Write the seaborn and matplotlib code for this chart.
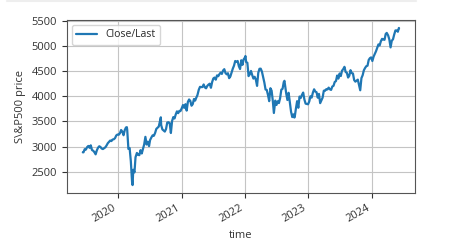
import matplotlib
matplotlib.use("Agg")
import matplotlib.pyplot as plt
import seaborn as sns
import pandas as pd
from matplotlib.lines import Line2D

dates = [
    "2019-06-10", "2019-06-14", "2019-06-21", "2019-06-28", "2019-07-05", "2019-07-12", "2019-07-19", "2019-07-26",
    "2019-08-02", "2019-08-09", "2019-08-16", "2019-08-23", "2019-08-30", "2019-09-06", "2019-09-13", "2019-09-20",
    "2019-09-27", "2019-10-04", "2019-10-11", "2019-10-18", "2019-10-25", "2019-11-01", "2019-11-08", "2019-11-15",
    "2019-11-22", "2019-11-29", "2019-12-06", "2019-12-13", "2019-12-20", "2019-12-27",
    "2020-01-03", "2020-01-10", "2020-01-17", "2020-01-24", "2020-01-31", "2020-02-07", "2020-02-14", "2020-02-19",
    "2020-02-21", "2020-02-28", "2020-03-06", "2020-03-13", "2020-03-20", "2020-03-23", "2020-03-27", "2020-04-03",
    "2020-04-09", "2020-04-17", "2020-04-24", "2020-05-01", "2020-05-08", "2020-05-15", "2020-05-22", "2020-05-29",
    "2020-06-05", "2020-06-12", "2020-06-19", "2020-06-26", "2020-07-02", "2020-07-10", "2020-07-17", "2020-07-24",
    "2020-07-31", "2020-08-07", "2020-08-14", "2020-08-21", "2020-08-28", "2020-09-02", "2020-09-04", "2020-09-11",
    "2020-09-18", "2020-09-25", "2020-10-02", "2020-10-09", "2020-10-16", "2020-10-23", "2020-10-30", "2020-11-06",
    "2020-11-13", "2020-11-20", "2020-11-27", "2020-12-04", "2020-12-11", "2020-12-18", "2020-12-24", "2020-12-31",
    "2021-01-08", "2021-01-15", "2021-01-22", "2021-01-29", "2021-02-05", "2021-02-12", "2021-02-19", "2021-02-26",
    "2021-03-05", "2021-03-12", "2021-03-19", "2021-03-26", "2021-04-01", "2021-04-09", "2021-04-16", "2021-04-23",
    "2021-04-30", "2021-05-07", "2021-05-14", "2021-05-21", "2021-05-28", "2021-06-04", "2021-06-11", "2021-06-18",
    "2021-06-25", "2021-07-02", "2021-07-09", "2021-07-16", "2021-07-23", "2021-07-30", "2021-08-06", "2021-08-13",
    "2021-08-20", "2021-08-27", "2021-09-03", "2021-09-10", "2021-09-17", "2021-09-24", "2021-10-01", "2021-10-08",
    "2021-10-15", "2021-10-22", "2021-10-29", "2021-11-05", "2021-11-12", "2021-11-19", "2021-11-26", "2021-12-03",
    "2021-12-10", "2021-12-17", "2021-12-23", "2021-12-31",
    "2022-01-03", "2022-01-07", "2022-01-14", "2022-01-21", "2022-01-28", "2022-02-04", "2022-02-11", "2022-02-18",
    "2022-02-25", "2022-03-04", "2022-03-11", "2022-03-18", "2022-03-25", "2022-04-01", "2022-04-08", "2022-04-14",
    "2022-04-22", "2022-04-29", "2022-05-06", "2022-05-13", "2022-05-20", "2022-05-27", "2022-06-03", "2022-06-10",
    "2022-06-16", "2022-06-24", "2022-07-01", "2022-07-08", "2022-07-15", "2022-07-22", "2022-07-29", "2022-08-05",
    "2022-08-12", "2022-08-16", "2022-08-19", "2022-08-26", "2022-09-02", "2022-09-09", "2022-09-16", "2022-09-23",
    "2022-09-30", "2022-10-07", "2022-10-12", "2022-10-14", "2022-10-21", "2022-10-28", "2022-11-04", "2022-11-11",
    "2022-11-18", "2022-11-25", "2022-12-02", "2022-12-09", "2022-12-16", "2022-12-23", "2022-12-30",
    "2023-01-06", "2023-01-13", "2023-01-20", "2023-01-27", "2023-02-03", "2023-02-10", "2023-02-17", "2023-02-24",
    "2023-03-03", "2023-03-10", "2023-03-17", "2023-03-24", "2023-03-31", "2023-04-06", "2023-04-14", "2023-04-21",
    "2023-04-28", "2023-05-05", "2023-05-12", "2023-05-19", "2023-05-26", "2023-06-02", "2023-06-09", "2023-06-16",
    "2023-06-23", "2023-06-30", "2023-07-07", "2023-07-14", "2023-07-21", "2023-07-28", "2023-08-04", "2023-08-11",
    "2023-08-18", "2023-08-25", "2023-09-01", "2023-09-08", "2023-09-15", "2023-09-22", "2023-09-29", "2023-10-06",
    "2023-10-13", "2023-10-20", "2023-10-27", "2023-11-03", "2023-11-10", "2023-11-17", "2023-11-24", "2023-12-01",
    "2023-12-08", "2023-12-15", "2023-12-22", "2023-12-29",
    "2024-01-05", "2024-01-12", "2024-01-19", "2024-01-26", "2024-02-02", "2024-02-09", "2024-02-16", "2024-02-23",
    "2024-03-01", "2024-03-08", "2024-03-15", "2024-03-22", "2024-03-28", "2024-04-05", "2024-04-12", "2024-04-19",
    "2024-04-26", "2024-05-03", "2024-05-10", "2024-05-17", "2024-05-24", "2024-05-31", "2024-06-06", "2024-06-07",
]

close = [
    2886.73, 2886.98, 2950.46, 2941.76, 2990.41, 3013.77, 2976.61, 3025.86,
    2932.05, 2918.65, 2888.68, 2847.11, 2926.46, 2978.71, 3007.39, 2992.07,
    2961.79, 2952.01, 2970.27, 2986.20, 3022.55, 3066.91, 3093.08, 3120.46,
    3110.29, 3140.98, 3145.91, 3168.80, 3221.22, 3240.02,
    3234.85, 3265.35, 3329.62, 3295.47, 3225.52, 3327.71, 3380.16, 3386.15,
    3337.75, 2954.22, 2972.37, 2711.02, 2304.92, 2237.40, 2541.47, 2488.65,
    2789.82, 2874.56, 2836.74, 2830.71, 2929.80, 2863.70, 2955.45, 3044.31,
    3193.93, 3041.31, 3097.74, 3009.05, 3130.01, 3185.04, 3224.73, 3215.63,
    3271.12, 3351.28, 3372.85, 3397.16, 3508.01, 3580.84, 3426.96, 3340.97,
    3319.47, 3298.46, 3348.44, 3477.13, 3483.81, 3465.39, 3269.96, 3509.44,
    3585.15, 3557.54, 3638.35, 3699.12, 3663.46, 3709.41, 3703.06, 3756.07,
    3824.68, 3768.25, 3841.47, 3714.24, 3886.83, 3934.83, 3906.71, 3811.15,
    3841.94, 3943.34, 3913.10, 3974.54, 4019.87, 4128.80, 4185.47, 4180.17,
    4181.17, 4232.60, 4173.85, 4155.86, 4204.11, 4229.89, 4247.44, 4166.45,
    4280.70, 4352.34, 4369.55, 4327.16, 4411.79, 4395.26, 4436.52, 4468.00,
    4441.67, 4509.37, 4535.43, 4458.58, 4432.99, 4455.48, 4357.04, 4391.34,
    4471.37, 4544.90, 4605.38, 4697.53, 4682.85, 4697.96, 4594.62, 4538.43,
    4712.02, 4620.64, 4725.79, 4766.18,
    4796.56, 4677.03, 4662.85, 4397.94, 4431.85, 4500.53, 4418.64, 4348.87,
    4384.65, 4328.87, 4204.31, 4463.12, 4543.06, 4545.86, 4488.28, 4392.59,
    4271.78, 4131.93, 4123.34, 4023.89, 3901.36, 4158.24, 4108.54, 3900.86,
    3666.77, 3911.74, 3825.33, 3899.38, 3863.16, 3961.63, 4130.29, 4145.19,
    4280.15, 4305.20, 4228.48, 4057.66, 3924.26, 4067.36, 3873.33, 3693.23,
    3585.62, 3639.66, 3577.03, 3583.07, 3752.75, 3901.06, 3770.55, 3992.93,
    3965.34, 4026.12, 4071.70, 3934.38, 3852.36, 3844.82, 3839.50,
    3895.08, 3999.09, 3972.61, 4070.56, 4136.48, 4090.46, 4079.09, 3970.04,
    4045.64, 3861.59, 3916.64, 3970.99, 4109.31, 4105.02, 4137.64, 4133.52,
    4169.48, 4136.25, 4124.08, 4191.98, 4205.45, 4282.37, 4298.86, 4409.59,
    4348.33, 4450.38, 4398.95, 4505.42, 4536.34, 4582.23, 4478.03, 4464.05,
    4369.71, 4405.71, 4515.77, 4457.49, 4450.32, 4320.06, 4288.05, 4308.50,
    4327.78, 4224.16, 4117.37, 4358.34, 4415.24, 4514.02, 4559.34, 4594.63,
    4604.37, 4719.19, 4754.63, 4769.83,
    4697.24, 4783.83, 4839.81, 4890.97, 4958.61, 5026.61, 5005.57, 5088.80,
    5137.08, 5123.69, 5117.09, 5234.18, 5254.35, 5204.34, 5123.41, 4967.23,
    5099.96, 5127.79, 5222.68, 5303.27, 5304.72, 5277.51, 5352.96, 5346.99,
]

series_label = "Close/Last"
x_label = "time"
y_label = "S\\&P500 price"

sns.set_style("ticks")
plt.rcParams["font.family"] = ["Open Sans", "DejaVu Sans"]
plt.rcParams["font.size"] = 8

df = pd.DataFrame({"time": pd.to_datetime(dates), "price": close})

fig = plt.figure(figsize=(4.62, 2.48), dpi=100)
ax = fig.add_axes([0.145, 0.222, 0.753, 0.697])

sns.lineplot(data=df, x="time", y="price", ax=ax, label=series_label,
             color="#1f77b4", linewidth=1.6)

ax.grid(True, color="#c4c4c4", linewidth=0.8)
ax.set_axisbelow(True)
ax.set_xlabel(x_label, fontsize=8, color="#333333", labelpad=4)
ax.set_ylabel(y_label, fontsize=8, color="#333333", labelpad=4)
ax.tick_params(labelsize=8, colors="#333333", length=3.5, width=0.8)
for lab in ax.get_xticklabels():
    lab.set_rotation(30)
    lab.set_ha("right")
for sp in ax.spines.values():
    sp.set_visible(True)
    sp.set_color("#555555")
    sp.set_linewidth(0.8)

leg = ax.legend(loc="upper left", fontsize=7.5, frameon=True, fancybox=True,
                framealpha=0.8, edgecolor="#cccccc")

fig.add_artist(Line2D([0.015, 0.9], [0.994, 0.994], transform=fig.transFigure,
                      color="#eeeeee", linewidth=1.5))

fig.savefig("out.png", dpi=100, facecolor="white")
